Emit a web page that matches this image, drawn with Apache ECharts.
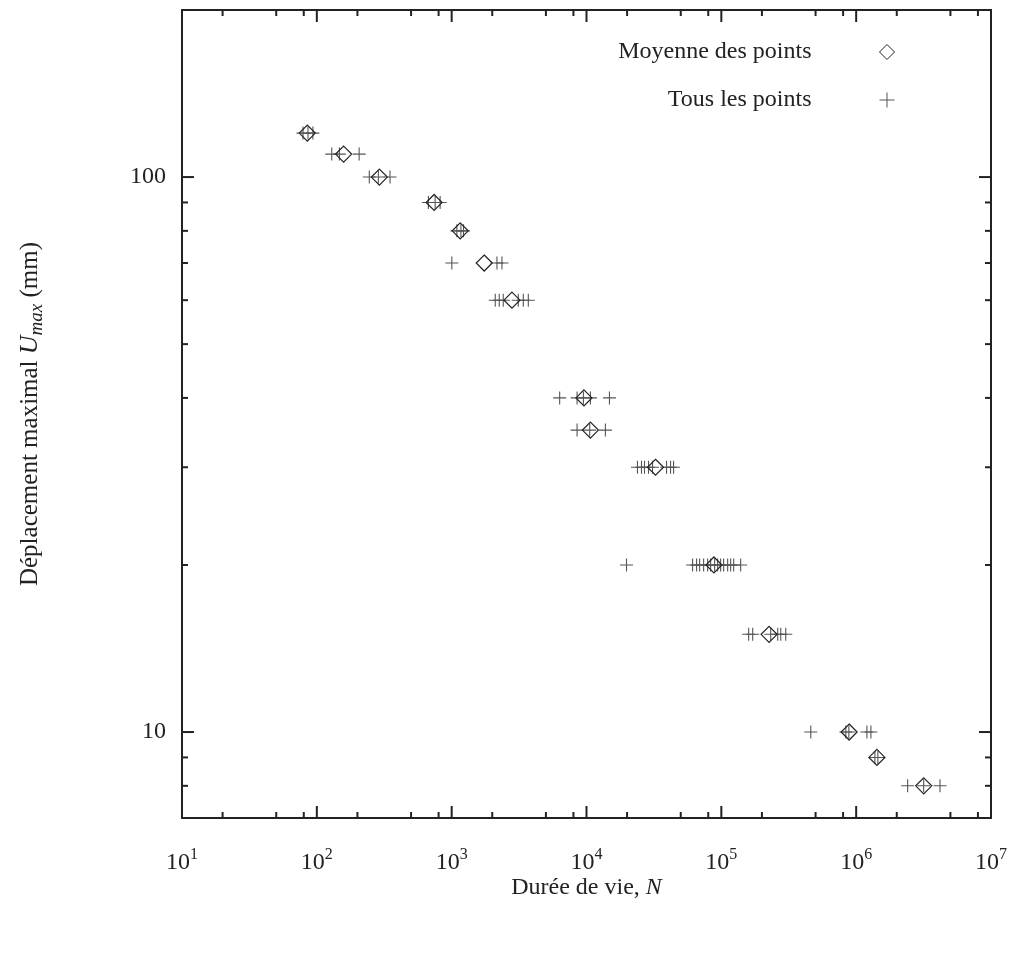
<!DOCTYPE html>
<html><head><meta charset="utf-8">
<script src="https://cdn.jsdelivr.net/npm/echarts@6/dist/echarts.min.js"></script>
<style>html,body{margin:0;padding:0;background:#fff}#c{width:1011px;height:960px}</style>
</head><body><div id="c"></div>
<script>
// Mean points (diamonds): displacement level (mm) and mean life N
const meanLevels = [120, 110, 100, 90, 80, 70, 60, 40, 35, 30, 20, 15, 10, 9, 8];
const meanCycles = [85, 158, 291, 741, 1157, 1744, 2800, 9570, 10690, 32500, 88100, 226000, 887000, 1425000, 3170000];

// All points (crosses), one array per displacement level
const levels = [120, 110, 100, 90, 80, 70, 60, 40, 35, 30, 20, 15, 10, 9, 8];
const pts120 = [79, 86, 93.5];
const pts110 = [129, 147, 206];
const pts100 = [245, 286, 349];
const pts90 = [672, 754, 821];
const pts80 = [1093, 1171, 1224];
const pts70 = [1003, 2167, 2360];
const pts60 = [2105, 2254, 2413, 3120, 3399, 3702];
const pts40 = [6324, 8515, 9484, 10691, 14798];
const pts35 = [8515, 10563, 13812];
const pts30 = [23883, 25576, 26923, 28840, 30882, 39233, 42012, 44222];
const pts20 = [19801, 61200, 65540, 69010, 73900, 79130, 83290, 89190, 93870, 98800, 104010, 111390, 117270, 123450, 139110];
const pts15 = [159500, 170800, 232400, 262000, 275800, 300400];
const pts10 = [460800, 838400, 882600, 1201300, 1286200];
const pts9 = [1377000, 1449000];
const pts8 = [2409000, 3168000, 4185000];
const ptsByLevel = [pts120, pts110, pts100, pts90, pts80, pts70, pts60, pts40, pts35, pts30, pts20, pts15, pts10, pts9, pts8];

// Axis ticks
const xMajorTicks = [10, 100, 1000, 10000, 100000, 1000000, 10000000];
const xMinorTicks = [20, 50, 80, 200, 500, 800, 2000, 5000, 8000, 20000, 50000, 80000,
  200000, 500000, 800000, 2000000, 5000000, 8000000];
const yMajorTicks = [10, 100];
const yMinorTicks = [8, 9, 20, 30, 40, 50, 60, 70, 80, 90];

const FONT = 'Liberation Serif';
const INK = '#222';
const FS = 24;

const meanData = meanCycles.map((n, i) => [n, meanLevels[i]]);
const allData = [];
ptsByLevel.forEach((arr, i) => arr.forEach(n => allData.push([n, levels[i]])));

function tickSeries(values, axis, len) {
  return {
    type: 'custom', silent: true, z: 5, clip: false, animation: false,
    data: values.map(v => axis === 'x' ? [v, 100] : [100, v]),
    renderItem: function (params, api) {
      const cs = params.coordSys;
      let lines;
      if (axis === 'x') {
        const x = api.coord([api.value(0), 100])[0];
        lines = [[x, cs.y + cs.height, x, cs.y + cs.height - len], [x, cs.y, x, cs.y + len]];
      } else {
        const y = api.coord([100, api.value(1)])[1];
        lines = [[cs.x, y, cs.x + len, y], [cs.x + cs.width, y, cs.x + cs.width - len, y]];
      }
      return {
        type: 'group',
        children: lines.map(l => ({
          type: 'line', shape: { x1: l[0], y1: l[1], x2: l[2], y2: l[3] },
          style: { stroke: INK, lineWidth: 2 }
        }))
      };
    }
  };
}

const plusPath = 'path://M0,6L12,6M6,0L6,12';

const chart = echarts.init(document.getElementById('c'), null, { renderer: 'canvas' });
chart.setOption({
  animation: false,
  backgroundColor: '#fff',
  grid: { left: 182, top: 10, width: 809, height: 808, show: true, borderColor: INK, borderWidth: 2, backgroundColor: 'transparent' },
  legend: {
    orient: 'vertical', right: 116, top: 38, align: 'right', padding: 0,
    itemWidth: 15, itemHeight: 15, itemGap: 20, selectedMode: false,
    textStyle: { fontFamily: FONT, fontSize: FS, color: INK, lineHeight: 28, padding: [0, 63, 0, 0] },
    data: [
      { name: 'Moyenne des points', icon: 'diamond', itemStyle: { color: 'transparent', borderColor: INK, borderWidth: 1 } },
      { name: 'Tous les points', icon: plusPath, itemStyle: { color: 'transparent', borderColor: '#555', borderWidth: 1 } }
    ]
  },
  xAxis: {
    type: 'log', logBase: 10, min: 10, max: 10000000,
    axisLine: { show: false }, axisTick: { show: false }, splitLine: { show: false }, minorTick: { show: false },
    axisLabel: {
      margin: 33, color: INK,
      formatter: function (v) {
        const e = Math.round(Math.log10(v));
        return '{b|10}{s|' + e + '}';
      },
      rich: {
        b: { fontFamily: FONT, fontSize: FS, color: INK, lineHeight: 24 },
        s: { fontFamily: FONT, fontSize: 16, color: INK, lineHeight: 18, padding: [0, 0, 16, 0] }
      }
    },
    name: '{n|Durée de vie, }{i|N}', nameLocation: 'middle', nameGap: 58, nameMoveOverlap: false,
    nameTextStyle: {
      rich: {
        n: { fontFamily: FONT, fontSize: FS, color: INK },
        i: { fontFamily: FONT, fontSize: FS, color: INK, fontStyle: 'italic' }
      }
    }
  },
  yAxis: {
    type: 'log', logBase: 10, min: 7, max: 200,
    axisLine: { show: false }, axisTick: { show: false }, splitLine: { show: false }, minorTick: { show: false },
    axisLabel: {
      margin: 16, color: INK, fontFamily: FONT, fontSize: FS,
      showMinLabel: false, showMaxLabel: false,
      formatter: function (v) {
        const l = Math.log10(v);
        return Math.abs(l - Math.round(l)) < 1e-6 ? String(Math.round(v)) : '';
      }
    },
    name: '{n|Déplacement maximal }{i|U}{s|max}{n| (mm)}', nameLocation: 'middle', nameGap: 138, nameRotate: 90, nameMoveOverlap: false,
    nameTextStyle: {
      rich: {
        n: { fontFamily: FONT, fontSize: 25, color: INK, lineHeight: 27 },
        i: { fontFamily: FONT, fontSize: 26, color: INK, fontStyle: 'italic', lineHeight: 27 },
        s: { fontFamily: FONT, fontSize: 19, color: INK, fontStyle: 'italic', lineHeight: 20, padding: [12, 0, 0, 0] }
      }
    }
  },
  series: [
    {
      name: 'Tous les points', type: 'scatter', data: allData,
      symbol: plusPath, symbolSize: 13, z: 2,
      itemStyle: { color: 'transparent', borderColor: '#555', borderWidth: 1.1, opacity: 1 },
      emphasis: { disabled: true }
    },
    {
      name: 'Moyenne des points', type: 'scatter', data: meanData,
      symbol: 'diamond', symbolSize: [16, 16], z: 3,
      itemStyle: { color: 'transparent', borderColor: INK, borderWidth: 1.2, opacity: 1 },
      emphasis: { disabled: true }
    },
    tickSeries(xMajorTicks, 'x', 12),
    tickSeries(xMinorTicks, 'x', 6),
    tickSeries(yMajorTicks, 'y', 12),
    tickSeries(yMinorTicks, 'y', 6)
  ]
});
</script>
</body></html>
